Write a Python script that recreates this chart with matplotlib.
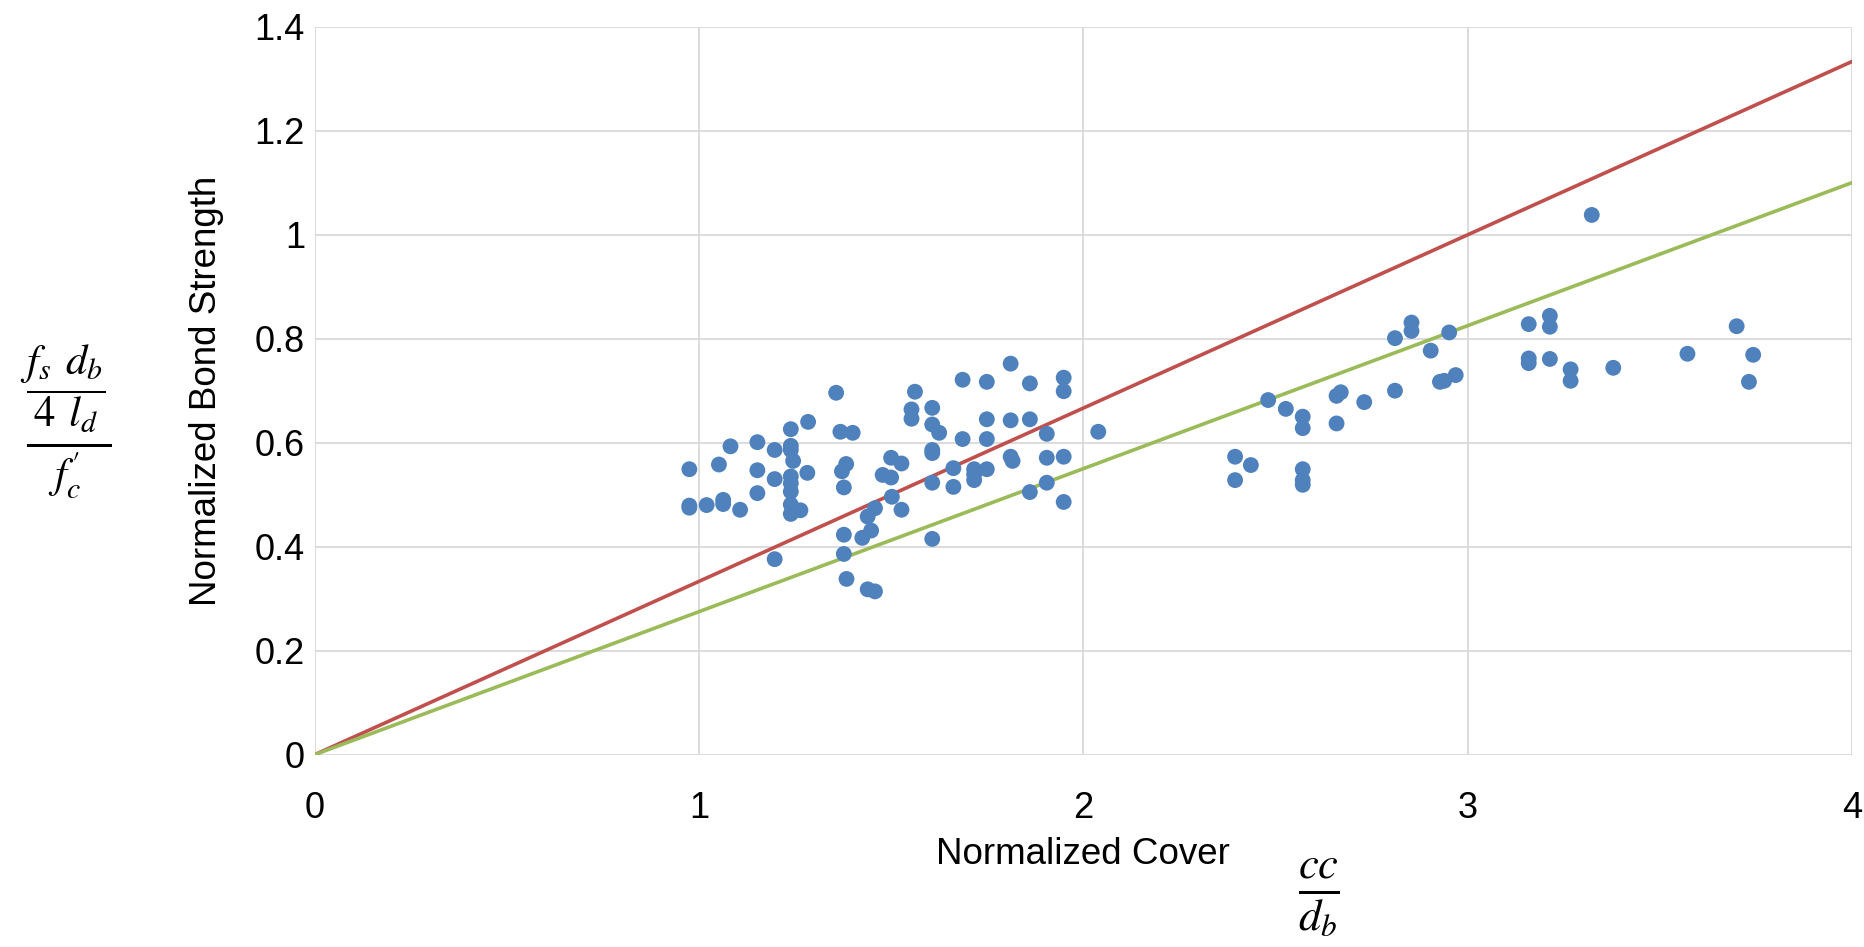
import matplotlib
matplotlib.use("Agg")
import matplotlib.pyplot as plt

plt.rcParams['font.family'] = ['Liberation Sans', 'DejaVu Sans']
plt.rcParams['mathtext.fontset'] = 'stix'

# normalized cover c/db and normalized bond strength for each test
cover = [0.975, 0.975, 0.975, 1.020, 1.052, 1.063, 1.063, 1.082, 1.107, 1.152,
         1.152, 1.152, 1.197, 1.197, 1.197, 1.239, 1.239, 1.239, 1.245, 1.239,
         1.239, 1.239, 1.239, 1.239, 1.264, 1.284, 1.282, 1.357, 1.368, 1.400,
         1.383, 1.372, 1.377, 1.377, 1.377, 1.384, 1.425, 1.448, 1.439, 1.458,
         1.439, 1.458, 1.478, 1.500, 1.500, 1.527, 1.502, 1.527, 1.562, 1.553,
         1.553, 1.607, 1.607, 1.625, 1.607, 1.607, 1.607, 1.607, 1.686, 1.686,
         1.662, 1.662, 1.716, 1.716, 1.716, 1.749, 1.749, 1.749, 1.749, 1.811,
         1.811, 1.811, 1.816, 1.861, 1.861, 1.861, 1.905, 1.905, 1.905, 1.949,
         1.949, 1.949, 1.949, 2.039,
         2.395, 2.395, 2.436, 2.481, 2.527, 2.571, 2.571, 2.571, 2.571, 2.571,
         2.659, 2.659, 2.670, 2.731, 2.811, 2.811, 2.854, 2.854, 2.904, 2.928,
         2.939, 2.952, 2.969,
         3.159, 3.159, 3.159, 3.214, 3.214, 3.214, 3.268, 3.268, 3.323, 3.379,
         3.572, 3.700, 3.743, 3.732]
strength = [0.549, 0.479, 0.475, 0.480, 0.558, 0.490, 0.482, 0.593, 0.471, 0.601,
            0.547, 0.503, 0.586, 0.530, 0.376, 0.626, 0.594, 0.586, 0.565, 0.535,
            0.522, 0.506, 0.481, 0.463, 0.470, 0.640, 0.542, 0.696, 0.621, 0.619,
            0.559, 0.545, 0.514, 0.423, 0.386, 0.338, 0.417, 0.431, 0.458, 0.474,
            0.318, 0.314, 0.538, 0.533, 0.571, 0.560, 0.496, 0.471, 0.698, 0.664,
            0.646, 0.667, 0.635, 0.619, 0.586, 0.580, 0.523, 0.415, 0.721, 0.607,
            0.551, 0.515, 0.549, 0.539, 0.528, 0.717, 0.645, 0.607, 0.549, 0.752,
            0.643, 0.573, 0.565, 0.714, 0.645, 0.505, 0.617, 0.571, 0.523, 0.725,
            0.699, 0.573, 0.486, 0.621,
            0.573, 0.528, 0.557, 0.682, 0.665, 0.650, 0.628, 0.549, 0.528, 0.519,
            0.637, 0.690, 0.697, 0.678, 0.700, 0.801, 0.831, 0.815, 0.777, 0.717,
            0.719, 0.812, 0.730,
            0.828, 0.762, 0.753, 0.844, 0.823, 0.761, 0.741, 0.719, 1.038, 0.744,
            0.771, 0.824, 0.769, 0.717]

# design lines
line_cover = [0, 4]
red_line = [0, 1.333]
green_line = [0, 1.1]

xticks = [0, 1, 2, 3, 4]
xtick_labels = ['0', '1', '2', '3', '4']
yticks = [0, 0.2, 0.4, 0.6, 0.8, 1.0, 1.2, 1.4]
ytick_labels = ['0', '0.2', '0.4', '0.6', '0.8', '1', '1.2', '1.4']

fig = plt.figure(figsize=(18.65, 9.47), dpi=100)
ax = fig.add_axes([0.1687, 0.2031, 0.8243, 0.7687])

ax.plot(line_cover, red_line, color='#C0504D', linewidth=2.6, zorder=2)
ax.plot(line_cover, green_line, color='#9BBB59', linewidth=2.6, zorder=2)
ax.scatter(cover, strength, s=130, color='#4F81BD', edgecolors='none', zorder=3)

ax.set_xlim(0, 4)
ax.set_ylim(0, 1.4)
ax.set_xticks(xticks)
ax.set_xticklabels(xtick_labels)
ax.set_yticks(yticks)
ax.set_yticklabels(ytick_labels)
ax.tick_params(axis='both', length=0, labelsize=26)
ax.tick_params(axis='x', pad=26)
ax.tick_params(axis='y', pad=7)
ax.grid(True, color='#D9D9D9', linewidth=1.3)
ax.set_axisbelow(True)
for sp in ax.spines.values():
    sp.set_visible(False)

ax.set_xlabel('Normalized Cover', fontsize=26.5, labelpad=8)
ax.set_ylabel('Normalized Bond Strength', fontsize=26.5, labelpad=22)

# math labels next to the axis titles
fig.text(66 / 1865, 1 - 422 / 947, r'$\frac{\dfrac{f_s\;\, d_b}{4\;\, l_d}}{f_c^{\prime}}$',
         fontsize=44, ha='center', va='center')
fig.text(1319 / 1865, 1 - 898 / 947, r'$\frac{cc}{d_b}$',
         fontsize=46, ha='center', va='center')

plt.savefig('out.png', dpi=100)
